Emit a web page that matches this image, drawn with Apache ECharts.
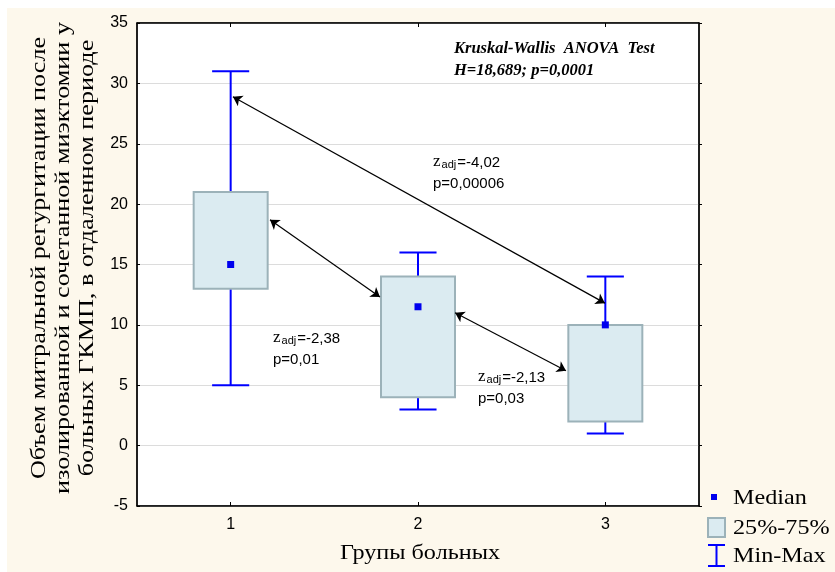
<!DOCTYPE html>
<html>
<head>
<meta charset="utf-8">
<script src="https://cdn.jsdelivr.net/npm/echarts@6/dist/echarts.min.js"></script>
<style>
  html, body { margin: 0; padding: 0; background: #ffffff; }
  #chart { width: 835px; height: 572px; }
</style>
</head>
<body>
<div id="chart"></div>
<script>
// Groups and box statistics
const categories = ['1', '2', '3'];
const minVals = [5, 3, 1];
const q1Vals = [13, 4, 2];
const medianVals = [15, 11.5, 10];
const q3Vals = [21, 14, 10];
const maxVals = [31, 16, 14];

// Pairwise comparison arrows (x in group units, y in value units)
const arrowFrom = [[1.012, 28.9], [1.21, 18.7], [2.198, 11.0]];
const arrowTo = [[2.998, 11.8], [1.797, 12.3], [2.79, 6.2]];

// Pairwise test results
const zLabels = ['=-4,02', '=-2,38', '=-2,13'];
const pLabels = ['p=0,00006', 'p=0,01', 'p=0,03'];

const yTicks = { min: -5, max: 35, interval: 5 };

const boxData = categories.map((c, i) => [i, minVals[i], q1Vals[i], medianVals[i], q3Vals[i], maxVals[i]]);

const SERIF = '"Liberation Serif", "Times New Roman", serif';
const SANS = '"Liberation Sans", Arial, sans-serif';

const chart = echarts.init(document.getElementById('chart'), null, { renderer: 'canvas' });

function renderBox(params, api) {
  const idx = api.value(0);
  const band = api.size([1, 0])[0];
  const boxW = band * 0.395;
  const capW = band * 0.198;
  const pMin = api.coord([idx, api.value(1)]);
  const pQ1 = api.coord([idx, api.value(2)]);
  const pMed = api.coord([idx, api.value(3)]);
  const pQ3 = api.coord([idx, api.value(4)]);
  const pMax = api.coord([idx, api.value(5)]);
  const cx = pMin[0];
  const blue = '#0000ff';
  return {
    type: 'group',
    children: [
      { type: 'line', shape: { x1: cx, y1: pMin[1], x2: cx, y2: pMax[1] }, style: { stroke: blue, lineWidth: 2 } },
      { type: 'line', shape: { x1: cx - capW / 2, y1: pMin[1], x2: cx + capW / 2, y2: pMin[1] }, style: { stroke: blue, lineWidth: 2 } },
      { type: 'line', shape: { x1: cx - capW / 2, y1: pMax[1], x2: cx + capW / 2, y2: pMax[1] }, style: { stroke: blue, lineWidth: 2 } },
      { type: 'rect', shape: { x: cx - boxW / 2, y: pQ3[1], width: boxW, height: pQ1[1] - pQ3[1] },
        style: { fill: '#dbebf1', stroke: '#9cb2b9', lineWidth: 2 } },
      { type: 'rect', shape: { x: cx - 3.5, y: pMed[1] - 3.5, width: 7, height: 7 }, style: { fill: '#0000ee' } }
    ]
  };
}

function zText(label) {
  return '{z|z}{s|adj}{t|' + label + '}';
}
const zRich = {
  z: { font: '17px ' + SERIF, fill: '#000', lineHeight: 18, verticalAlign: 'bottom' },
  s: { font: '11px ' + SANS, fill: '#000', lineHeight: 18, verticalAlign: 'bottom', padding: [0, 1, 0, 1] },
  t: { font: '15px ' + SANS, fill: '#000', lineHeight: 18, verticalAlign: 'bottom' }
};

const annPos = [[433, 161], [273, 337], [478, 376]];
const annGraphics = [];
annPos.forEach((p, i) => {
  annGraphics.push({ type: 'text', x: p[0], y: p[1], z: 50,
    style: { text: zText(zLabels[i]), rich: zRich, align: 'left', verticalAlign: 'middle' } });
  annGraphics.push({ type: 'text', x: p[0], y: p[1] + 23, z: 50,
    style: { text: pLabels[i], font: '15px ' + SANS, fill: '#000', align: 'left', verticalAlign: 'middle' } });
});

const option = {
  backgroundColor: '#ffffff',
  animation: false,
  grid: {
    left: 137, top: 23, right: 136, bottom: 66,
    show: true, backgroundColor: '#ffffff', borderColor: '#000', borderWidth: 1
  },
  xAxis: [
    {
      type: 'category', data: categories, position: 'bottom',
      axisLine: { show: true, onZero: false, lineStyle: { color: '#000', width: 1.5 } },
      axisTick: { show: true, inside: true, alignWithLabel: true, length: 4, lineStyle: { color: '#000' } },
      axisLabel: { color: '#000', fontFamily: SANS, fontSize: 16, margin: 11 },
      splitLine: { show: false }
    },
    {
      type: 'category', data: categories, position: 'top',
      axisLine: { show: true, onZero: false, lineStyle: { color: '#000', width: 1.5 } },
      axisTick: { show: true, inside: true, alignWithLabel: true, length: 4, lineStyle: { color: '#000' } },
      axisLabel: { show: false }, splitLine: { show: false }
    },
    {
      type: 'value', min: 0.5, max: 3.5, show: false
    }
  ],
  yAxis: [
    {
      type: 'value', min: yTicks.min, max: yTicks.max, interval: yTicks.interval, position: 'left',
      axisLine: { show: true, onZero: false, lineStyle: { color: '#000', width: 1.5 } },
      axisTick: { show: true, inside: true, length: 3, lineStyle: { color: '#000' } },
      axisLabel: { color: '#000', fontFamily: SANS, fontSize: 16, margin: 9 },
      splitLine: { show: true, lineStyle: { color: '#dcdcdc', width: 1 } }
    },
    {
      type: 'value', min: yTicks.min, max: yTicks.max, interval: yTicks.interval, position: 'right',
      axisLine: { show: true, onZero: false, lineStyle: { color: '#000', width: 1.5 } },
      axisTick: { show: true, inside: false, length: 3, lineStyle: { color: '#000' } },
      axisLabel: { show: false }, splitLine: { show: false }
    }
  ],
  series: [
    {
      type: 'custom', name: 'box', xAxisIndex: 0, yAxisIndex: 0,
      renderItem: renderBox,
      encode: { x: 0, y: [1, 2, 3, 4, 5] },
      data: boxData, z: 5
    },
    {
      type: 'lines', coordinateSystem: 'cartesian2d', xAxisIndex: 2, yAxisIndex: 0,
      symbol: ['arrow', 'arrow'], symbolSize: [9, 9],
      lineStyle: { color: '#000', width: 1.2, opacity: 1 },
      data: arrowFrom.map((a, i) => ({ coords: [a, arrowTo[i]] })),
      z: 10
    }
  ],
  graphic: [
    // cream page band around the plot
    { type: 'rect', z: -100, silent: true, shape: { x: 7, y: 8, width: 828, height: 564 }, style: { fill: '#fdf8ec' } },
    // test summary
    { type: 'text', x: 454, y: 49, z: 50,
      style: { text: 'Kruskal-Wallis  ANOVA  Test', font: 'italic bold 16.5px ' + SERIF, fill: '#000', align: 'left', verticalAlign: 'middle' } },
    { type: 'text', x: 454, y: 71, z: 50,
      style: { text: 'H=18,689; p=0,0001', font: 'italic bold 16.5px ' + SERIF, fill: '#000', align: 'left', verticalAlign: 'middle' } },
    // axis titles
    { type: 'text', x: 63, y: 258, rotation: Math.PI / 2, scaleX: 1.19, z: 50,
      style: { text: 'Объем митральной регургитации после\nизолированной и сочетанной миэктомии у\nбольных ГКМП, в отдаленном периоде',
        font: '22px ' + SERIF, lineHeight: 24, fill: '#000', align: 'center', verticalAlign: 'middle' } },
    { type: 'text', x: 420, y: 553, scaleX: 1.1, z: 50,
      style: { text: 'Групы больных', font: '22px ' + SERIF, fill: '#000', align: 'center', verticalAlign: 'middle' } },
    // legend
    { type: 'rect', z: 50, shape: { x: 711, y: 494, width: 6, height: 6 }, style: { fill: '#0000ee' } },
    { type: 'text', x: 733, y: 498, z: 50, scaleX: 1.15,
      style: { text: 'Median', font: '21px ' + SERIF, fill: '#000', align: 'left', verticalAlign: 'middle' } },
    { type: 'rect', z: 50, shape: { x: 708, y: 518, width: 17, height: 19 }, style: { fill: '#dbebf1', stroke: '#9cb2b9', lineWidth: 2 } },
    { type: 'text', x: 733, y: 528, z: 50, scaleX: 1.15,
      style: { text: '25%-75%', font: '21px ' + SERIF, fill: '#000', align: 'left', verticalAlign: 'middle' } },
    { type: 'line', z: 50, shape: { x1: 716.5, y1: 545, x2: 716.5, y2: 566 }, style: { stroke: '#0000ff', lineWidth: 2 } },
    { type: 'line', z: 50, shape: { x1: 708, y1: 545, x2: 725, y2: 545 }, style: { stroke: '#0000ff', lineWidth: 2 } },
    { type: 'line', z: 50, shape: { x1: 708, y1: 566, x2: 725, y2: 566 }, style: { stroke: '#0000ff', lineWidth: 2 } },
    { type: 'text', x: 733, y: 556, z: 50, scaleX: 1.15,
      style: { text: 'Min-Max', font: '21px ' + SERIF, fill: '#000', align: 'left', verticalAlign: 'middle' } }
  ].concat(annGraphics)
};

chart.setOption(option);
</script>
</body>
</html>
